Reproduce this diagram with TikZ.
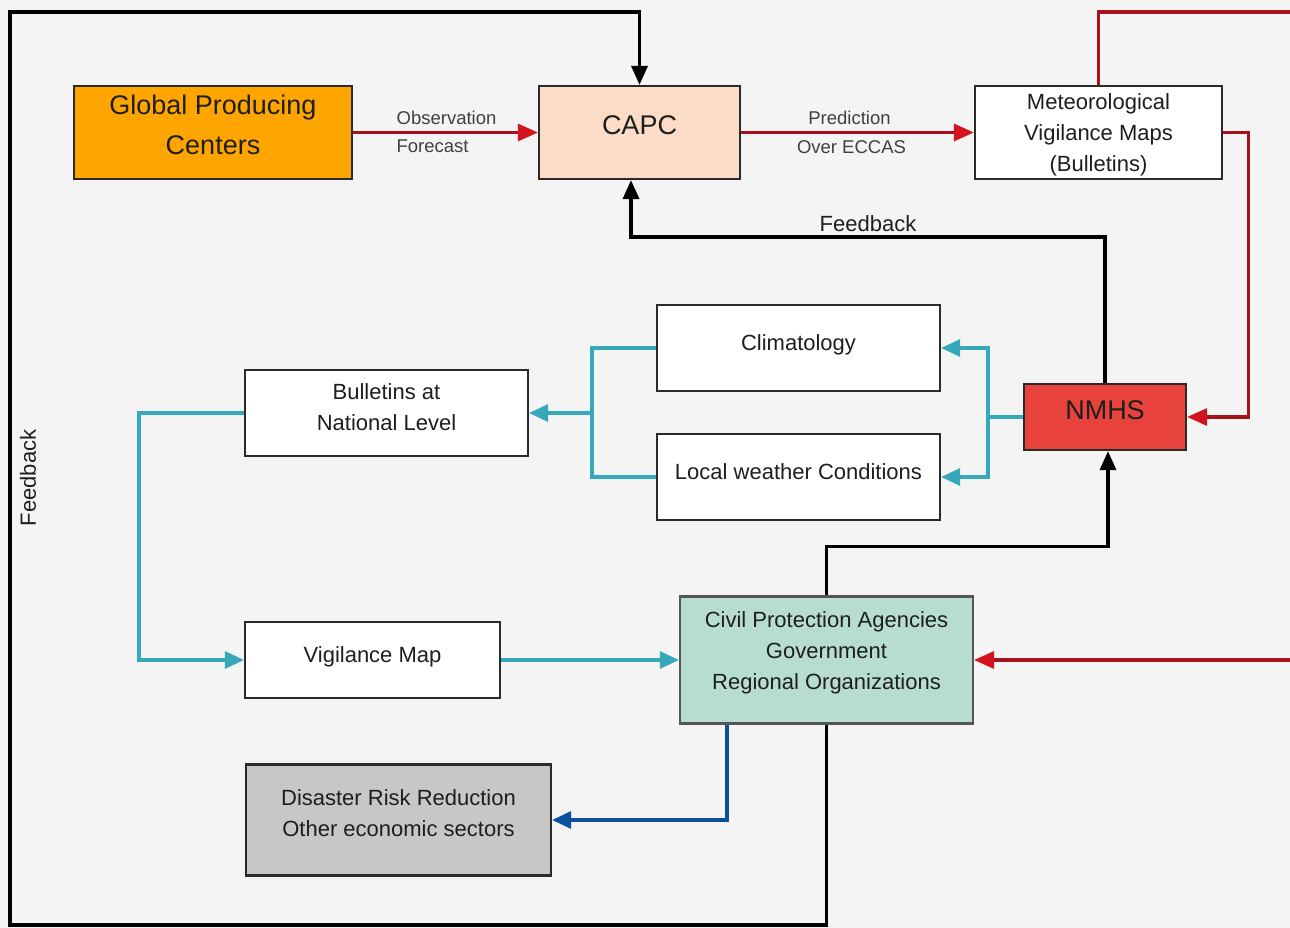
\documentclass[tikz,border=0pt]{standalone}
\usepackage{fontspec}
\setmainfont{Liberation Sans}
\usetikzlibrary{arrows.meta,calc}
\definecolor{bg}{HTML}{F4F4F4}
\definecolor{boxline}{HTML}{2A2A2A}
\definecolor{txt}{HTML}{1E1E1E}
\definecolor{orangefill}{HTML}{FFA500}
\definecolor{peach}{HTML}{FCDCC6}
\definecolor{nmhsred}{HTML}{E8423C}
\definecolor{mint}{HTML}{B7DDD2}
\definecolor{grayfill}{HTML}{C7C7C7}
\definecolor{redline}{HTML}{A8121C}
\definecolor{redtip}{HTML}{D2141F}
\definecolor{teal}{HTML}{35A9BA}
\definecolor{darkblue}{HTML}{0B4F9E}
\begin{document}
\begin{tikzpicture}[x=1pt,y=-1pt,
  box/.style={draw=boxline, line width=2.2pt, inner sep=0pt},
  lbl/.style={text=txt, align=center, inner sep=0pt, font=\fontsize{22}{31}\selectfont},
  lblbig/.style={text=txt, align=center, inner sep=0pt, font=\fontsize{27}{40}\selectfont},
  lblsm/.style={text=txt!85, inner sep=6pt, font=\fontsize{18.5}{22}\selectfont},
  blk/.style={draw=black, line width=3.5pt},
  blkarr/.style={blk, -{Triangle[length=19pt,width=16pt]}},
  redln/.style={draw=redline, line width=3.2pt},
  redarr/.style={redln, -{Triangle[length=20pt,width=17pt,color=redtip]}},
  tealln/.style={draw=teal, line width=3.2pt},
  tealarr/.style={tealln, -{Triangle[length=19pt,width=17pt]}},
  bluearr/.style={draw=darkblue, line width=3.2pt, -{Triangle[length=19pt,width=17pt]}}
]
\fill[bg] (0,0) rectangle (1290,928);
\useasboundingbox (0,0) rectangle (1290,928);

% boxes
\node[box, fill=orangefill, minimum width=278pt, minimum height=93pt,
  label={[lblbig, yshift=7.5pt, name=tgpc]center:Global Producing\\Centers}] (gpc) at (213,132.5) {};
\node[box, fill=peach, minimum width=201pt, minimum height=93pt,
  label={[lblbig, yshift=7.5pt, name=tcapc]center:CAPC}] (capc) at (639.5,132.5) {};
\node[box, fill=white, minimum width=247pt, minimum height=93pt,
  label={[lbl, yshift=-2.5pt, name=tmet]center:Meteorological\\Vigilance Maps\\(Bulletins)}] (met) at (1098.5,132.5) {};
\node[box, fill=nmhsred, minimum width=162pt, minimum height=66pt,
  label={[lblbig, yshift=7pt, name=tnmhs]center:NMHS}] (nmhs) at (1105,417) {};
\node[box, fill=white, minimum width=283pt, minimum height=86pt,
  label={[lbl, yshift=3.5pt, name=tclim]center:Climatology}] (clim) at (798.5,348) {};
\node[box, fill=white, minimum width=283pt, minimum height=86pt,
  label={[lbl, yshift=5pt, name=tlocal]center:Local weather Conditions}] (local) at (798.5,477) {};
\node[box, fill=white, minimum width=283pt, minimum height=86pt,
  label={[lbl, yshift=5.5pt, name=tbull]center:Bulletins at\\National Level}] (bull) at (386.5,413) {};
\node[box, fill=white, minimum width=255pt, minimum height=76pt,
  label={[lbl, yshift=3pt, name=tvig]center:Vigilance Map}] (vig) at (372.5,660) {};
\node[box, fill=mint, draw=boxline!80, minimum width=293pt, minimum height=127pt,
  label={[lbl, yshift=7pt, name=tcivil]center:Civil Protection Agencies\\Government\\Regional Organizations}] (civil) at (826.5,660) {};
\node[box, fill=grayfill, minimum width=305pt, minimum height=111pt,
  label={[lbl, yshift=6.5pt, name=tdrr]center:Disaster Risk Reduction\\Other economic sectors}] (drr) at (398.5,820) {};

% helper coordinates
\coordinate (lb) at (10,925);
\coordinate (lt) at (10,12);
\coordinate (redtop) at (1290,12);
\coordinate (redright) at (1290,660);
\coordinate (tj) at (988,417);
\coordinate (tl) at (592,413);

% red connectors
\draw[redarr] (gpc) -- node[lblsm, above, xshift=1pt] (lobs) {Observation}
  node[lblsm, below, xshift=-13pt] (lfor) {Forecast} (capc);
\draw[redarr] (capc) -- node[lblsm, above, xshift=-8pt] (lpred) {Prediction}
  node[lblsm, below, xshift=-6pt] (lover) {Over ECCAS} (met);
\draw[redln] (met.north) |- (redtop);
\draw[redarr] (met.east) -- ++(25,0) |- (nmhs.east);
\draw[redarr] (redright) -- (civil.east);

% black feedback connectors
\draw[blkarr] (nmhs.north) -- ++(0,-146) -| ([xshift=-8.5pt]capc.south);
\node[lbl] (fbtop) at (868,224) {Feedback};
\draw[blkarr] (civil.south) |- (lb) -- (lt) -| (capc.north);
\node[lbl, rotate=90] (fbleft) at (28,478) {Feedback};
\draw[blkarr] (civil.north) -- ++(0,-49) -| ([xshift=3pt]nmhs.south);

% teal connectors
\draw[tealln] (nmhs.west) -- (tj);
\draw[tealarr] (tj) |- (clim.east);
\draw[tealarr] (tj) |- (local.east);
\draw[tealln] (clim.west) -| (tl) |- (local.west);
\draw[tealarr] (tl) -- (bull.east);
\draw[tealarr] (bull.west) -- ++(-105,0) |- (vig.west);
\draw[tealarr] (vig.east) -- (civil.west);

% blue connector
\draw[bluearr] ([xshift=-99.5pt]civil.south) |- (drr.east);
\end{tikzpicture}
\end{document}
